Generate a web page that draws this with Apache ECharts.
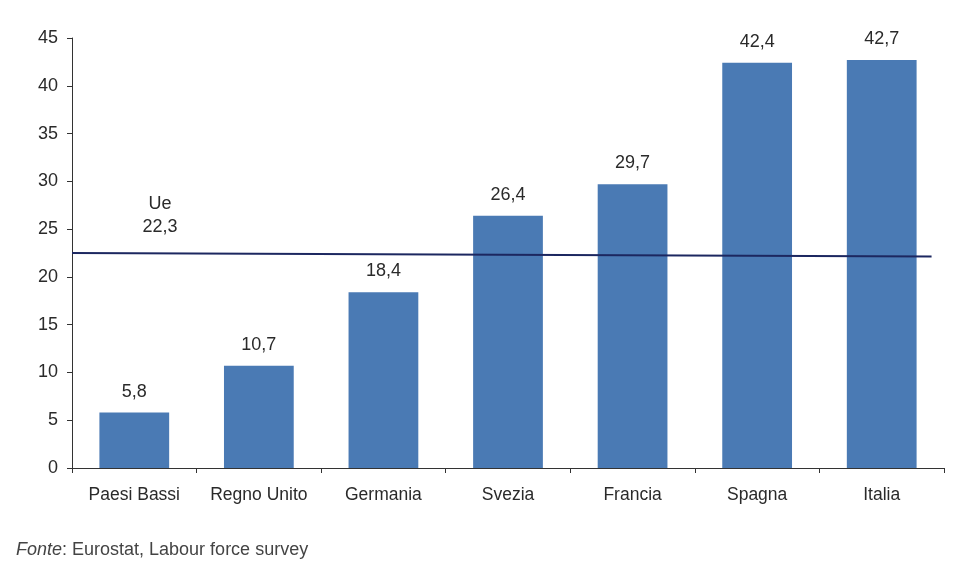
<!DOCTYPE html>
<html>
<head>
<meta charset="utf-8">
<script src="https://cdn.jsdelivr.net/npm/echarts@6/dist/echarts.min.js"></script>
<style>
  html, body { margin: 0; padding: 0; background: #fff; }
  #main { width: 961px; height: 568px; }
</style>
</head>
<body>
<div id="main"></div>
<script>
// dati
const paesi = ['Paesi Bassi', 'Regno Unito', 'Germania', 'Svezia', 'Francia', 'Spagna', 'Italia'];
const valori = [5.8, 10.7, 18.4, 26.4, 29.7, 42.4, 42.7];
const yTicks = [0, 5, 10, 15, 20, 25, 30, 35, 40, 45];
// linea media Ue (leggermente inclinata nell'originale)
const lineaUe = [[0, 22.5], [6.9, 22.13]];
const ueLabel = 'Ue\n22,3';

const fmt = v => String(v).replace('.', ',');
const font = 'Liberation Sans, Arial, sans-serif';

const chart = echarts.init(document.getElementById('main'));
chart.setOption({
  animation: false,
  textStyle: { fontFamily: font },
  grid: { left: 72, right: 17, top: 38, bottom: 100 },
  title: {
    left: 11,
    top: 536,
    text: '{i|Fonte}: Eurostat, Labour force survey',
    textStyle: {
      fontFamily: font, fontSize: 18, fontWeight: 'normal', color: '#444',
      rich: { i: { fontStyle: 'italic', fontFamily: font, fontSize: 18, color: '#444' } }
    }
  },
  xAxis: [
    {
      type: 'category',
      data: paesi,
      axisLine: { lineStyle: { color: '#333', width: 1 } },
      axisTick: { show: true, interval: 0, length: 5, lineStyle: { color: '#333' } },
      axisLabel: { interval: 0, color: '#2a2a2a', fontSize: 17.5, margin: 18, fontFamily: font }
    },
    {
      type: 'value', min: 0, max: 7, show: false
    }
  ],
  yAxis: {
    type: 'value',
    min: yTicks[0],
    max: yTicks[yTicks.length - 1],
    interval: 5,
    splitLine: { show: false },
    axisLine: { show: true, lineStyle: { color: '#333', width: 1 } },
    axisTick: { show: true, length: 5, lineStyle: { color: '#333' } },
    axisLabel: { color: '#2a2a2a', fontSize: 18, margin: 14, fontFamily: font }
  },
  series: [
    {
      type: 'bar',
      data: valori,
      barCategoryGap: '44%',
      itemStyle: { color: '#4a7ab4' },
      label: {
        show: true, position: 'top', distance: 12,
        color: '#2a2a2a', fontSize: 18, fontFamily: font,
        formatter: p => fmt(p.value)
      }
    },
    {
      type: 'line',
      xAxisIndex: 1,
      data: lineaUe.map((d, i) => i === 0 ? {
        value: d,
        label: {
          show: true, position: [88, -60], align: 'center',
          formatter: ueLabel, color: '#2a2a2a', fontSize: 18, lineHeight: 23, fontFamily: font
        }
      } : d),
      symbolSize: 0,
      lineStyle: { color: '#1c2760', width: 2 },
      z: 5
    }
  ]
});
</script>
</body>
</html>
